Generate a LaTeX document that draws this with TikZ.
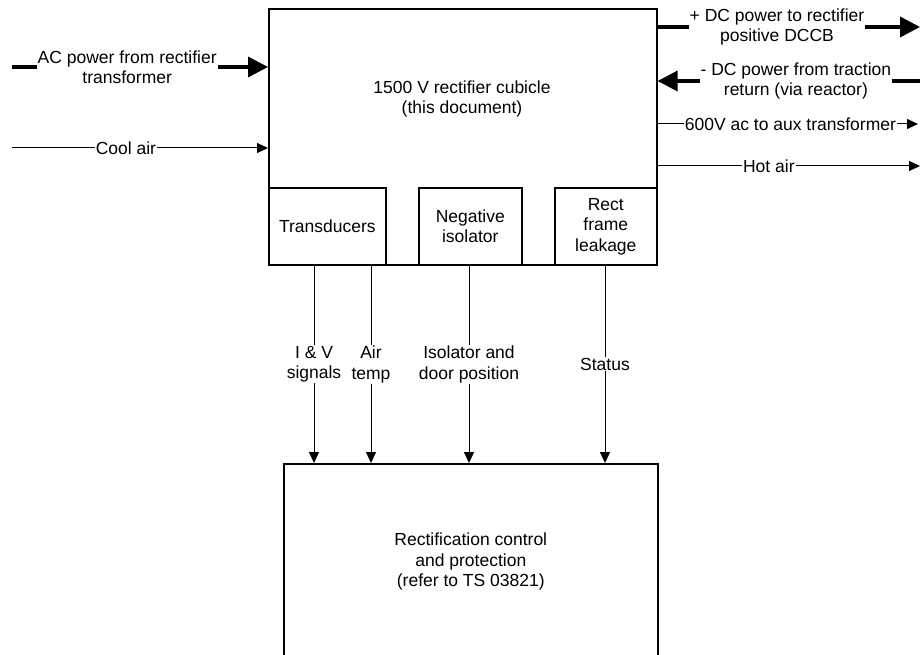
\documentclass[tikz,border=0pt]{standalone}
\usepackage{fontspec}
\setmainfont{Liberation Sans}
\usetikzlibrary{arrows.meta, positioning, calc}

\begin{document}
\begin{tikzpicture}[
    x=1pt, y=-1pt,
    font=\fontsize{17.5}{20.5}\selectfont,
    box/.style={draw, line width=1.6pt, inner sep=0pt, align=center, anchor=north west},
    lbl/.style={fill=white, inner sep=1pt, align=center},
    sig/.style={-{Triangle[length=11pt, width=10pt]}, line width=1pt},
    pwr/.style={line width=3.5pt, -{Triangle[length=20pt, width=20pt]}},
]
\useasboundingbox (0,0) rectangle (920,655);

% Blocks
\node[box, minimum width=388pt, minimum height=256pt] (cubicle) at (268,8)   {};
\node[align=center]                                   (cubtxt)  at (462,99)  {1500 V rectifier cubicle\\(this document)};
\node[box, minimum width=117pt, minimum height=77pt]  (trans)   at (268,187) {Transducers};
\node[box, minimum width=103pt, minimum height=77pt]  (negiso)  at (418,187) {Negative\\isolator};
\node[box, minimum width=102pt, minimum height=77pt]  (leak)    at (554,187) {Rect\\frame\\leakage};
\node[box, minimum width=374pt, minimum height=196pt] (ctrl)    at (283,463) {Rectification control\\and protection\\(refer to TS 03821)};

% Free ends
\coordinate (acin)   at (12,67);
\coordinate (coolin) at (12,148);
\coordinate (dcpos)  at (920,27);
\coordinate (dcneg)  at (920,81);
\coordinate (auxout) at (918,124);
\coordinate (hotout) at (920,166);

% Inputs
\draw[pwr] (acin)   -- node[lbl, pos=0.45]  {AC power from rectifier\\transformer} (acin -| cubicle.west);
\draw[sig] (coolin) -- node[lbl, pos=0.445] {Cool air} (coolin -| cubicle.west);

% Outputs
\draw[pwr] (cubicle.east |- dcpos)  -- node[lbl, pos=0.455] {+ DC power to rectifier\\positive DCCB} (dcpos);
\draw[pwr] (dcneg) -- node[lbl, pos=0.473] {- DC power from traction\\return (via reactor)} (cubicle.east |- dcneg);
\draw[sig] (cubicle.east |- auxout) -- node[lbl, pos=0.51]  {600V ac to aux transformer} (auxout);
\draw[sig] (cubicle.east |- hotout) -- node[lbl, pos=0.424] {Hot air} (hotout);

% Signals to control
\foreach \src/\x/\txt in {trans/314/{I \& V\\signals}, trans/371/{Air\\temp},
                          negiso/469/{Isolator and\\door position}, leak/605/{Status}}
    \draw[sig] (\src.south -| \x,0) -- node[lbl] {\txt} (ctrl.north -| \x,0);
\end{tikzpicture}
\end{document}
